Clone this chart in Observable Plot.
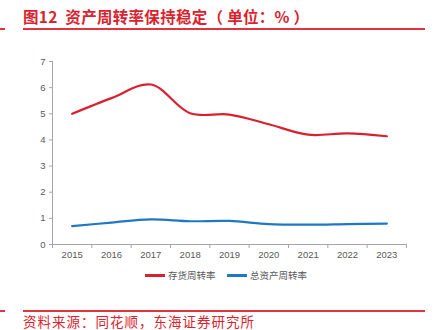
<!DOCTYPE html>
<html><head><meta charset="utf-8">
<script src="https://cdn.jsdelivr.net/npm/d3@7"></script>
<script src="https://cdn.jsdelivr.net/npm/@observablehq/plot@0.6"></script>
<style>
body{margin:0;background:#fff;font-family:"Noto Sans CJK SC","Noto Sans",sans-serif;}
#wrap{position:relative;width:434px;height:330px;overflow:hidden;}
.title{position:absolute;left:23px;top:6px;font-size:15.5px;letter-spacing:0.3px;font-weight:bold;color:#d9232e;white-space:nowrap;line-height:20px;}
.rule{position:absolute;height:2px;background:#e0343f;}
.src{position:absolute;left:23px;top:313px;font-size:13.5px;letter-spacing:1px;color:#d9232e;line-height:16px;white-space:nowrap;}
#chart{position:absolute;left:0;top:40px;}
.legend{position:absolute;top:267px;left:0;width:434px;font-size:9.5px;color:#595959;white-space:nowrap;}
.sw{position:absolute;top:7px;width:20px;height:2.5px;}
.lt{position:absolute;top:0;line-height:16px;}
</style></head>
<body><div id="wrap">
<div class="title">图12&nbsp;&nbsp;资产周转率保持稳定（ 单位：% ）</div>
<div class="rule" style="left:0;width:5px;top:28px"></div>
<div class="rule" style="left:23px;width:402px;top:28px"></div>
<div id="chart"></div>
<div class="legend">
  <div class="sw" style="left:145px;background:#d8202f"></div><div class="lt" style="left:168px">存货周转率</div>
  <div class="sw" style="left:227px;background:#1f78c4"></div><div class="lt" style="left:250px">总资产周转率</div>
</div>
<div class="rule" style="left:0;width:5px;top:310px"></div>
<div class="rule" style="left:23px;width:402px;top:310px"></div>
<div class="src">资料来源：同花顺，东海证券研究所</div>
</div>
<script>
const years = [2015, 2016, 2017, 2018, 2019, 2020, 2021, 2022, 2023];
const inventoryTurnover = [5.0, 5.6, 6.12, 5.02, 4.97, 4.6, 4.2, 4.25, 4.14];
const assetTurnover = [0.70, 0.84, 0.96, 0.89, 0.90, 0.78, 0.76, 0.78, 0.80];
const yTicks = [0, 1, 2, 3, 4, 5, 6, 7];
const seriesNames = ["存货周转率", "总资产周转率"];
const colors = ["#d8202f", "#1f78c4"];

const data = [];
years.forEach((y, i) => {
  data.push({year: y, value: inventoryTurnover[i], series: seriesNames[0]});
  data.push({year: y, value: assetTurnover[i], series: seriesNames[1]});
});
const boundaries = years.map(y => y - 0.5).concat([years[years.length - 1] + 0.5]);
const gray = "#a6a6a6";

const chart = Plot.plot({
  width: 434,
  height: 225,
  marginLeft: 52,
  marginRight: 28,
  marginTop: 21,
  marginBottom: 21,
  style: {background: "transparent", fontFamily: "Liberation Sans, Arial, sans-serif", fontSize: "9.5px", color: "#595959"},
  x: {domain: [years[0] - 0.5, years[years.length - 1] + 0.5]},
  y: {domain: [0, 7]},
  color: {domain: seriesNames, range: colors},
  marks: [
    Plot.ruleX([boundaries[0]], {y1: 0, y2: 7, stroke: gray}),
    Plot.ruleY([0], {x1: boundaries[0], x2: boundaries[boundaries.length - 1], stroke: gray}),
    Plot.axisY({ticks: yTicks, tickSize: 3, tickPadding: 4, tickFormat: d => String(d), stroke: gray, fill: "#595959", label: null}),
    Plot.axisX({ticks: boundaries, tickSize: 4, tickFormat: () => "", stroke: gray, label: null}),
    Plot.axisX({ticks: years, tickSize: 0, tickPadding: 7, tickFormat: d => String(d), fill: "#595959", label: null}),
    Plot.line(data, {x: "year", y: "value", z: "series", stroke: "series", strokeWidth: 2.2, curve: "catmull-rom"})
  ]
});
document.getElementById("chart").appendChild(chart);
</script>
</body></html>
